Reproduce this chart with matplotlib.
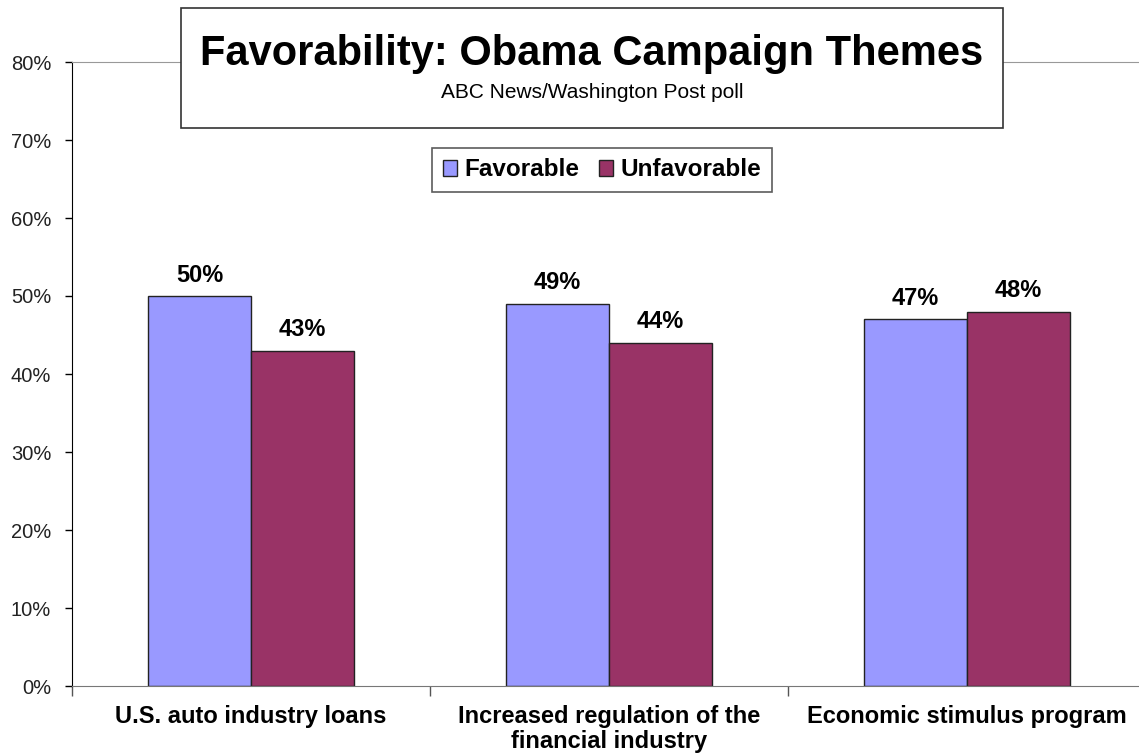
import numpy as np
import matplotlib.pyplot as plt
from matplotlib.patches import Rectangle
from matplotlib.ticker import PercentFormatter

plt.rcParams['font.family'] = ['Liberation Sans', 'DejaVu Sans']

categories = ['U.S. auto industry loans',
              'Increased regulation of the\nfinancial industry',
              'Economic stimulus program']
favorable = [50, 49, 47]
unfavorable = [43, 44, 48]

W, H = 1139, 755
fig = plt.figure(figsize=(W / 100, H / 100), dpi=100)
ax = fig.add_axes([72 / W, 69 / H, 1074 / W, 624 / H])

x = np.arange(len(categories))
bw = 0.287
b1 = ax.bar(x - bw / 2, favorable, bw, color='#9999FF', edgecolor='#222222', linewidth=1)
b2 = ax.bar(x + bw / 2, unfavorable, bw, color='#993366', edgecolor='#222222', linewidth=1)

for bars, vals in [(b1, favorable), (b2, unfavorable)]:
    for b, v in zip(bars, vals):
        ax.text(b.get_x() + b.get_width() / 2, v + 1.2, f'{v}%', ha='center', va='bottom',
                fontsize=17, fontweight='bold')

ax.set_xlim(-0.5, 2.5)
ax.set_ylim(0, 80)
ax.set_yticks(np.arange(0, 81, 10))
ax.yaxis.set_major_formatter(PercentFormatter(decimals=0))
ax.tick_params(axis='y', length=5, width=1, labelsize=14.5, labelcolor='#222222', pad=10)

ax.set_xticks([-0.5, 0.5, 1.5])
ax.set_xticklabels([])
ax.tick_params(axis='x', length=7, width=1, color='#555555')
ax.set_xticks(x, minor=True)
ax.set_xticklabels(categories, minor=True, fontsize=17, fontweight='bold', linespacing=1.1)
ax.tick_params(axis='x', which='minor', length=0, pad=14)
for lbl in ax.get_xticklabels(minor=True):
    lbl.set_va('top')

ax.spines['left'].set_color('black')
ax.spines['bottom'].set_color('#777777')
ax.spines['top'].set_color('#999999')
ax.spines['right'].set_visible(False)

# overlay for title box so it sits above the plot frame
top = fig.add_axes([0, 0, 1, 1], zorder=10)
top.set_xlim(0, W)
top.set_ylim(H, 0)
top.axis('off')
top.add_patch(Rectangle((181, 8), 822, 120, facecolor='white', edgecolor='#333333', linewidth=1.2))
top.text(592, 54, 'Favorability: Obama Campaign Themes', ha='center', va='center',
         fontsize=30, fontweight='bold')
top.text(592, 92, 'ABC News/Washington Post poll', ha='center', va='center', fontsize=15)

leg = top.legend([b1, b2], ['Favorable', 'Unfavorable'], loc='center', bbox_to_anchor=(602 / W, 1 - 170 / H),
                 bbox_transform=fig.transFigure, ncol=2, frameon=True, fancybox=False,
                 prop={'size': 17.5, 'weight': 'bold'}, handlelength=0.6, handleheight=0.6,
                 handletextpad=0.3, columnspacing=0.8, borderpad=0.45, borderaxespad=0)
leg.get_frame().set_edgecolor('#333333')
leg.get_frame().set_linewidth(1.2)

fig.savefig('out.png', dpi=100)
